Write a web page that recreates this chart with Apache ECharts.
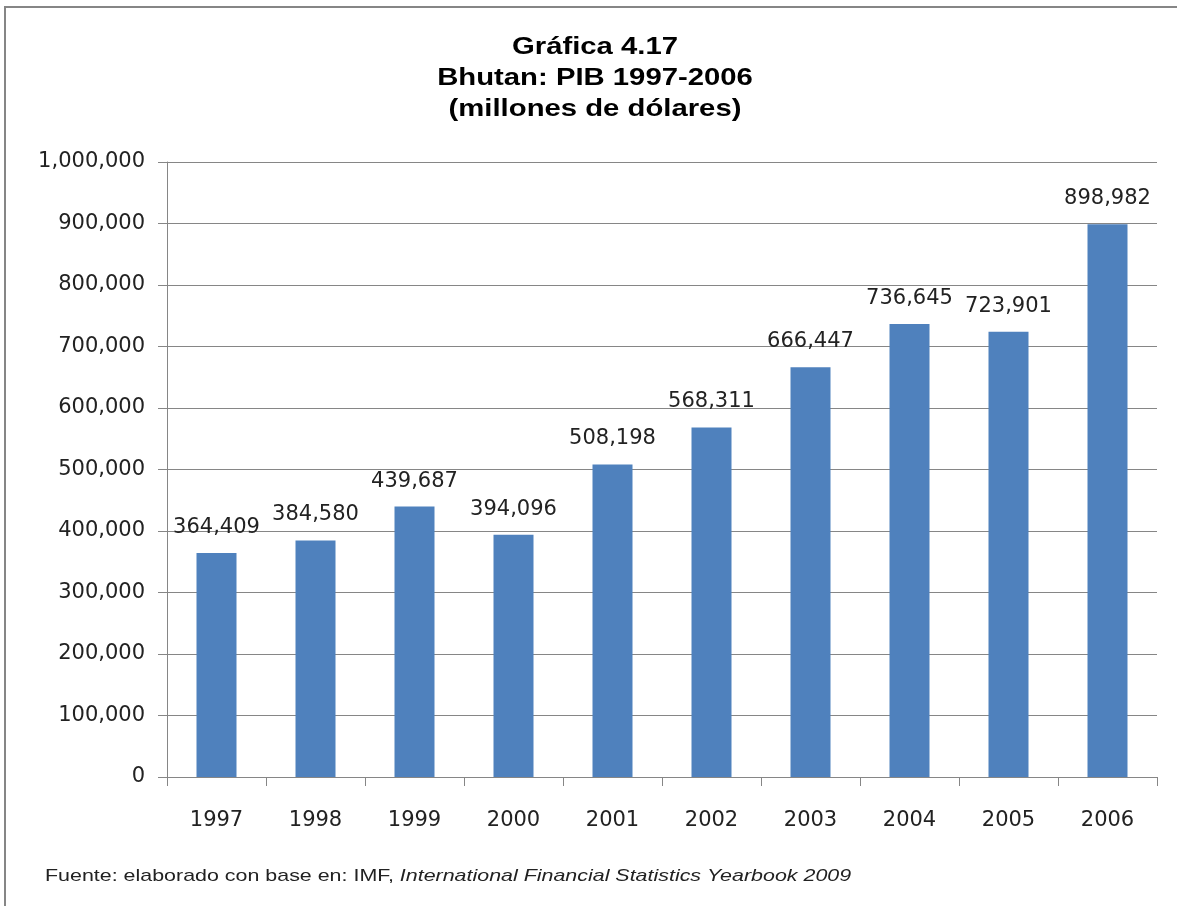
<!DOCTYPE html>
<html><head><meta charset="utf-8">
<script src="https://cdn.jsdelivr.net/npm/echarts@6/dist/echarts.min.js"></script>
<style>html,body{margin:0;padding:0;background:#fff}#c{width:1177px;height:906px}</style>
</head><body><div id="c"></div>
<script>
const categories = ['1997','1998','1999','2000','2001','2002','2003','2004','2005','2006'];
const values = [364409,384580,439687,394096,508198,568311,666447,736645,723901,898982];
const titleLines = ['Gráfica 4.17','Bhutan: PIB 1997-2006','(millones de dólares)'];
const footerPlain = 'Fuente: elaborado con base en: IMF, ';
const footerItalic = 'International Financial Statistics Yearbook 2009';
const fmt = v => v.toLocaleString('en-US');
const chart = echarts.init(document.getElementById('c'));
const titleY = [47, 78, 109];
const titleGraphics = titleLines.map((t, i) => ({
  type:'text', x:595, y:titleY[i], scaleX:1.22,
  style:{text:t, x:0, y:0, align:'center', verticalAlign:'middle',
    fontFamily:'Liberation Sans', fontWeight:'bold', fontSize:24, fill:'#000'}
}));
chart.setOption({
  animation:false,
  backgroundColor:'#fff',
  graphic:[
    {type:'rect',shape:{x:5,y:7,width:1180,height:920},style:{fill:'none',stroke:'#868686',lineWidth:2},z:-1},
    ...titleGraphics,
    {type:'text',x:45,y:876,scaleX:1.26,style:{
      x:0,y:0,verticalAlign:'middle',
      rich:{a:{fontFamily:'Liberation Sans',fontSize:17,fill:'#222'},b:{fontFamily:'Liberation Sans',fontSize:17,fontStyle:'italic',fill:'#222'}},
      text:'{a|' + footerPlain + '}{b|' + footerItalic + '}'
    }}
  ],
  grid:{left:167,right:20,top:162,bottom:129},
  xAxis:{
    type:'category',data:categories,
    axisLine:{lineStyle:{color:'#868686',width:1}},
    axisTick:{show:true,length:9,lineStyle:{color:'#868686'}},
    axisLabel:{fontFamily:'DejaVu Sans',fontSize:21,color:'#222',margin:33}
  },
  yAxis:{
    type:'value',min:0,max:1000000,interval:100000,
    axisLine:{show:true,lineStyle:{color:'#868686'}},
    axisTick:{show:true,length:9,lineStyle:{color:'#868686'}},
    splitLine:{lineStyle:{color:'#868686',width:1}},
    axisLabel:{fontFamily:'DejaVu Sans',fontSize:21,color:'#222',margin:22,formatter:fmt}
  },
  series:[{
    type:'bar',data:values,barWidth:40,
    itemStyle:{color:'#4F81BD'},
    label:{show:true,position:'top',distance:15,fontFamily:'DejaVu Sans',fontSize:21,color:'#222',formatter:p=>fmt(p.value)}
  }]
});
</script></body></html>
